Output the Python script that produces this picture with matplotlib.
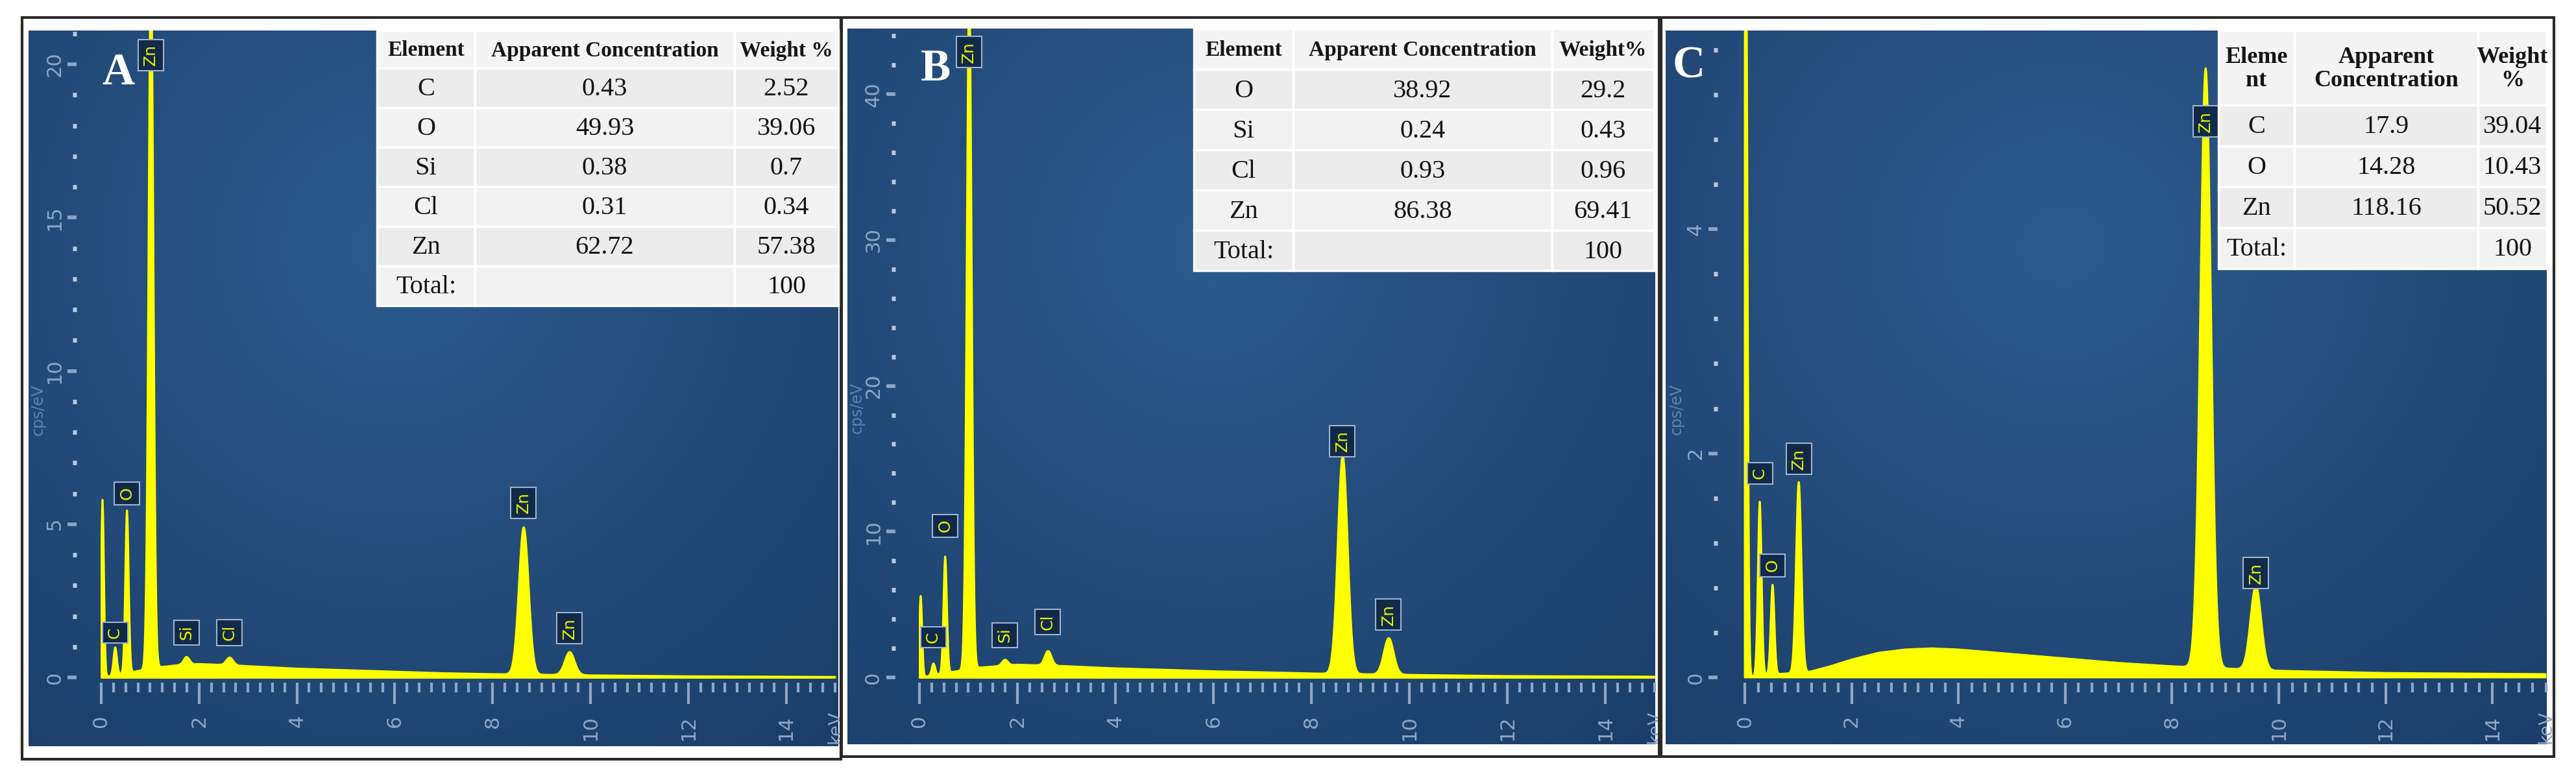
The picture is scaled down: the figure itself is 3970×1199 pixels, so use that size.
import numpy as np
import matplotlib
matplotlib.use("Agg")
import matplotlib.pyplot as plt
from matplotlib.colors import LinearSegmentedColormap
from matplotlib.patches import Rectangle

# ---- data ----
energy_grid_step = 0.005
# peaks: (energy keV, height cps/eV, sigma keV)
peaks_a = [(0.02, 5.8, 0.03), (0.28, 0.9, 0.035), (0.52, 5.3, 0.035), (1.01, 23.0, 0.05),
           (1.74, 0.25, 0.06), (2.62, 0.25, 0.07), (8.63, 4.8, 0.1), (9.57, 0.75, 0.1)]
peaks_b = [(0.02, 5.6, 0.03), (0.28, 0.8, 0.035), (0.52, 8.0, 0.035), (1.01, 47.0, 0.05),
           (1.74, 0.4, 0.06), (2.62, 1.0, 0.07), (8.63, 15.0, 0.1), (9.57, 2.5, 0.1)]
peaks_c = [(0.02, 7.0, 0.03), (0.28, 1.55, 0.035), (0.52, 0.8, 0.035), (1.01, 1.7, 0.05),
           (8.63, 5.35, 0.1), (9.57, 0.75, 0.1)]
# continuum background knots (keV, cps/eV)
bg_e = [0.0, 0.3, 1.2, 1.6, 2.0, 2.5, 3.0, 3.5, 4.0, 5.0, 6.0, 7.0, 8.0, 10.0, 12.0, 15.0]
bg_a = [0.0, 0.1, 0.35, 0.42, 0.45, 0.42, 0.38, 0.34, 0.3, 0.25, 0.2, 0.15, 0.12, 0.08, 0.05, 0.03]
bg_b = [0.0, 0.2, 0.7, 0.8, 0.9, 0.85, 0.8, 0.72, 0.65, 0.55, 0.45, 0.38, 0.3, 0.2, 0.12, 0.08]
bg_c = [0.0, 0.02, 0.05, 0.1, 0.16, 0.22, 0.25, 0.26, 0.25, 0.21, 0.17, 0.13, 0.1, 0.06, 0.04, 0.03]

labels_a = [("C", 0.28, 1.46), ("O", 0.52, 6.0), ("Zn", 1.01, 20.3), ("Si", 1.74, 1.46),
            ("Cl", 2.62, 1.46), ("Zn", 8.63, 5.7), ("Zn", 9.57, 1.6)]
labels_b = [("C", 0.28, 2.75), ("O", 0.52, 10.4), ("Zn", 1.01, 42.9), ("Si", 1.74, 2.9),
            ("Cl", 2.62, 3.8), ("Zn", 8.63, 16.2), ("Zn", 9.57, 4.3)]
labels_c = [("C", 0.28, 1.82), ("O", 0.52, 1.0), ("Zn", 1.01, 1.95), ("Zn", 8.63, 4.96),
            ("Zn", 9.57, 0.93)]

table_a = [["Element", "Apparent Concentration", "Weight %"],
           ["C", "0.43", "2.52"], ["O", "49.93", "39.06"], ["Si", "0.38", "0.7"],
           ["Cl", "0.31", "0.34"], ["Zn", "62.72", "57.38"], ["Total:", "", "100"]]
table_b = [["Element", "Apparent Concentration", "Weight%"],
           ["O", "38.92", "29.2"], ["Si", "0.24", "0.43"], ["Cl", "0.93", "0.96"],
           ["Zn", "86.38", "69.41"], ["Total:", "", "100"]]
table_c = [["Eleme\nnt", "Apparent\nConcentration", "Weight\n%"],
           ["C", "17.9", "39.04"], ["O", "14.28", "10.43"], ["Zn", "118.16", "50.52"],
           ["Total:", "", "100"]]

W, H = 3970, 1199
fig = plt.figure(figsize=(W / 100, H / 100), dpi=100)
fig.patch.set_facecolor("white")

cmap = LinearSegmentedColormap.from_list("eds", ["#2b5b8c", "#1c3d69"])
gx, gy = np.meshgrid(np.linspace(-1, 1, 200), np.linspace(-1, 1, 200))
grad = np.sqrt((gx + 0.1) ** 2 * 0.8 + (gy + 0.4) ** 2 * 0.6)

tick_col = "#8ea6c6"
serif = ["Liberation Serif", "DejaVu Serif"]


def spectrum(peaks, bg):
    e = np.arange(0, 15.0, energy_grid_step)
    y = np.interp(e, bg_e, bg)
    for c, h, s in peaks:
        y = y + h * np.exp(-0.5 * ((e - c) / s) ** 2)
    return e, y


def panel(blue, x0, pk, y0, pu, peaks, bg, labels, major, letter, letter_xy, tickpx):
    l, r, t, b = blue
    ax = fig.add_axes([l / W, 1 - b / H, (r - l) / W, (b - t) / H])
    xmin, xmax = (l - x0) / pk, (r - x0) / pk
    ymin, ymax = -(b - y0) / pu, (y0 - t) / pu
    ax.set_xlim(xmin, xmax)
    ax.set_ylim(ymin, ymax)
    ax.imshow(grad, cmap=cmap, extent=[0, 1, 0, 1], transform=ax.transAxes,
              aspect="auto", zorder=0)
    e, y = spectrum(peaks, bg)
    ax.fill_between(e, 0, y, color="#ffff00", lw=2, ec="#ffff00", zorder=2)
    for s in ax.spines.values():
        s.set_visible(False)
    ax.spines["bottom"].set_position(("data", -(1052 - y0) / pu))
    ax.spines["left"].set_position(("data", (tickpx - x0) / pk))
    ax.set_xticks(np.arange(0, 15, 2))
    ax.set_xticks(np.arange(0, 15.01, 0.25), minor=True)
    ax.set_yticks(np.arange(0, ymax, major))
    ax.set_yticks(np.arange(0, ymax, major / 5), minor=True)
    ax.tick_params(axis="x", which="major", length=24, width=3, color=tick_col,
                   labelcolor=tick_col, labelsize=22, labelrotation=90, pad=12)
    ax.tick_params(axis="x", which="minor", length=11, width=3, color=tick_col)
    ax.tick_params(axis="y", which="major", length=10, width=4, color=tick_col,
                   labelcolor=tick_col, labelsize=22, labelrotation=90, pad=4)
    ax.tick_params(axis="y", which="minor", length=4, width=5, color="#b8c8de")
    for lab in ax.get_yticklabels():
        lab.set_va("center")
    ax.text(15.0, -(1120 - y0) / pu, "keV", rotation=90, color=tick_col, fontsize=20,
            ha="center", va="center")
    ax.text(0.012, 0.47, "cps/eV", rotation=90, color="#5f82ad", fontsize=17,
            transform=ax.transAxes, ha="center", va="center")
    for name, ex, ey in labels:
        ax.text(ex, ey, name, rotation=90, color="#e8f000", fontsize=18, ha="center",
                va="center", zorder=4,
                bbox=dict(boxstyle="square,pad=0.3", fc="#112a4a", ec="#9fb3cf", lw=1.5))
    ax.text(letter_xy[0], letter_xy[1], letter, color="white", fontsize=50,
            fontweight="bold", family=serif, ha="left", va="center", zorder=5)
    return ax


panel((44, 1292, 47, 1150), 156, 75.4, 1044, 47.25, peaks_a, bg_a, labels_a, 5, "A",
      (0.02, 19.7), 118)
panel((1306, 2550, 44, 1147), 1417, 75.6, 1044, 22.47, peaks_b, bg_b, labels_b, 10, "B",
      (0.02, 41.7), 1380)
panel((2567, 3925, 47, 1147), 2689, 82.3, 1044, 172.7, peaks_c, bg_c, labels_c, 2, "C",
      (-1.35, 5.45), 2647)

# overlay in pixel coordinates: frames and tables
ov = fig.add_axes([0, 0, 1, 1])
ov.set_xlim(0, W)
ov.set_ylim(H, 0)
ov.axis("off")
ov.patch.set_alpha(0)
for x1, y1, x2, y2 in [(34, 27, 1296, 1170), (1297, 27, 2557, 1166), (2560, 27, 3936, 1166)]:
    ov.add_patch(Rectangle((x1, y1), x2 - x1, y2 - y1, fill=False, ec="#2a2a2a", lw=3))


def draw_table(rows, cols, top, head_h, row_h, hsize):
    y = top
    for i, row in enumerate(rows):
        h = head_h if i == 0 else row_h
        for j, txt in enumerate(row):
            fc = "#f4f4f4" if i == 0 else ("#ececec" if i % 2 else "#f2f2f2")
            ov.add_patch(Rectangle((cols[j], y), cols[j + 1] - cols[j], h, fc=fc,
                                   ec="white", lw=2.5))
            ov.text((cols[j] + cols[j + 1]) / 2, y + h / 2 + 2, txt, ha="center",
                    va="center", family=serif, fontsize=hsize if i == 0 else 29,
                    fontweight="bold" if i == 0 else "normal", color="#151515",
                    linespacing=1.1)
        y += h


draw_table(table_a, [581, 732, 1132, 1292], 47, 58, 61, 24)
draw_table(table_b, [1840, 1993, 2392, 2549], 44, 63, 62, 24)
draw_table(table_c, [3419, 3536, 3819, 3925], 47, 115, 63, 26)

fig.savefig("out.png", dpi=100)
